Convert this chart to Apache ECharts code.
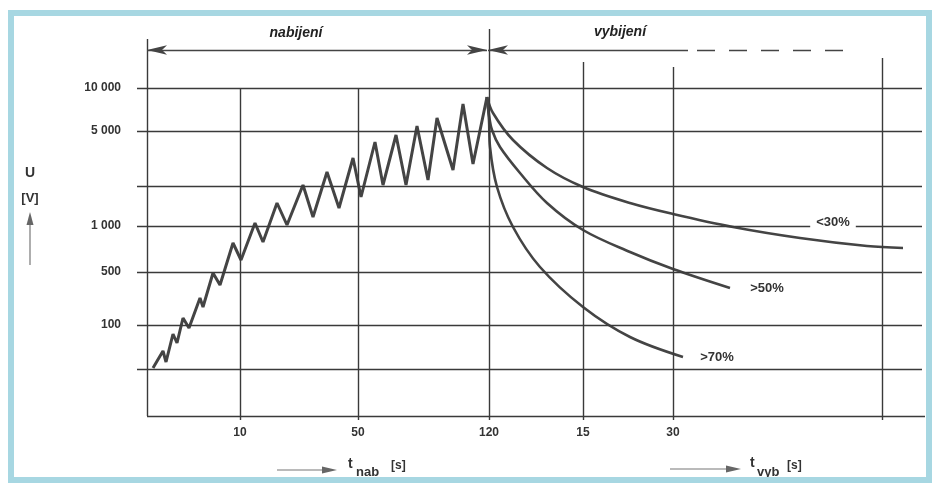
<!DOCTYPE html>
<html><head><meta charset="utf-8">
<script src="https://cdn.jsdelivr.net/npm/echarts@6/dist/echarts.min.js"></script>
<style>html,body{margin:0;padding:0;background:#fff}#c{width:936px;height:483px}</style>
</head><body><div id="c"></div>
<script>
// Positions along the picture's own (non-uniform) axes, in drawing units
const chargeX = [6,16,19,26,30,36,42,53,56,66,73,86,94,108,116,130,140,156,166,180,192,206,214,228,236,249,259,270,281,290,306,316,326,340];
const chargeY = [48,65,54,82,73,98,88,118,109,143,131,173,156,193,174,213,191,231,199,244,208,258,219,274,231,281,231,290,236,298,246,312,252,319];
const d30X = [340,346,366,400,436,483,526,586,653,720,756];
const d30Y = [319,303,276,248,229,213,202,189,178,170,168];
const d50X = [340,342,345,353,373,400,436,483,526,583];
const d50Y = [319,301,286,269,243,213,186,164,147,128];
const d70X = [340,342,343,350,366,393,436,483,536];
const d70Y = [319,296,269,229,189,149,109,79,59];
// horizontal levels and their U labels
const levelY = [328,285,230,190,144,91,47];
const levelLabels = ['10 000','5 000','','1 000','500','100',''];
// vertical time marks and their labels
const markX = [93,211,342,436,526,735];
const markTop = [328,328,387,354,349,358];
const markLabels = ['10','50','120','15','30',''];
const curveLabels = ['<30%','>50%','>70%'];
const curveLabelPos = [[686,194],[620,128],[570,59]];

const zip = (a,b)=>a.map((v,i)=>[v,b[i]]);
const ink = '#3a3a3a';
const lblFont = {color:'#333',fontFamily:'Liberation Sans',fontWeight:'bold',fontSize:12};

const hLines = levelY.map((y,i)=>[{coord:[-10,y],label:{show:levelLabels[i]!=='',position:'start',distance:16,formatter:levelLabels[i],...lblFont}},{coord:[775,y]}]);
hLines.push([{coord:[0,0],label:{show:false}},{coord:[778,0]}]);
const vLines = markX.map((x,i)=>[{coord:[x,-4],label:{show:markLabels[i]!=='',position:'start',distance:7,formatter:markLabels[i],...lblFont}},{coord:[x,markTop[i]]}]);
vLines.push([{coord:[0,0],label:{show:false}},{coord:[0,377]}]);

const arrowLines = [
  [{coord:[0,366],symbol:'arrow'},{coord:[340,366],symbol:'arrow'}],
  [{coord:[341,366],symbol:'arrow'},{coord:[541,366],symbol:'none'}],
  [{coord:[550,366],symbol:'none',lineStyle:{type:[18,14]}},{coord:[698,366],symbol:'none'}]
];

const chart = echarts.init(document.getElementById('c'),null,{renderer:'canvas'});
const curveLine = (data,smooth)=>({type:'line',data,showSymbol:false,smooth,lineStyle:{color:'#444',width:2.6},silent:true,animation:false,clip:false});
chart.setOption({
  animation:false,
  backgroundColor:'#fff',
  grid:{left:137,right:11,top:29,bottom:61},
  xAxis:{type:'value',min:-10,max:778,show:false},
  yAxis:{type:'value',min:-6,max:387,show:false},
  graphic:[
    {type:'rect',shape:{x:11,y:13,width:918,height:467},style:{fill:null,stroke:'#a7d7e2',lineWidth:6},z:100},
    {type:'text',x:296,y:33,style:{text:'nabijení',font:'italic bold 14px "Liberation Sans"',fill:'#222',textAlign:'center',textVerticalAlign:'middle'}},
    {type:'text',x:620,y:32,style:{text:'vybijení',font:'italic bold 14px "Liberation Sans"',fill:'#222',textAlign:'center',textVerticalAlign:'middle'}},
    {type:'text',x:30,y:173,style:{text:'U',font:'bold 14px "Liberation Sans"',fill:'#333',textAlign:'center',textVerticalAlign:'middle'}},
    {type:'text',x:30,y:198,style:{text:'[V]',font:'bold 13px "Liberation Sans"',fill:'#333',textAlign:'center',textVerticalAlign:'middle'}},
    {type:'line',shape:{x1:30,y1:265,x2:30,y2:222},style:{stroke:'#777',lineWidth:1.2}},
    {type:'polygon',shape:{points:[[30,212],[26.5,225],[33.5,225]]},style:{fill:'#666'}},
    {type:'line',shape:{x1:277,y1:470,x2:326,y2:470},style:{stroke:'#777',lineWidth:1.2}},
    {type:'polygon',shape:{points:[[337,470],[322,466.5],[322,473.5]]},style:{fill:'#666'}},
    {type:'text',x:348,y:464,style:{text:'t',font:'bold 14px "Liberation Sans"',fill:'#333',textVerticalAlign:'middle'}},
    {type:'text',x:356,y:472,style:{text:'nab',font:'bold 13px "Liberation Sans"',fill:'#333',textVerticalAlign:'middle'}},
    {type:'text',x:391,y:466,style:{text:'[s]',font:'bold 12px "Liberation Sans"',fill:'#333',textVerticalAlign:'middle'}},
    {type:'line',shape:{x1:670,y1:469,x2:730,y2:469},style:{stroke:'#777',lineWidth:1.2}},
    {type:'polygon',shape:{points:[[741,469],[726,465.5],[726,472.5]]},style:{fill:'#666'}},
    {type:'text',x:750,y:463,style:{text:'t',font:'bold 14px "Liberation Sans"',fill:'#333',textVerticalAlign:'middle'}},
    {type:'text',x:757,y:472,style:{text:'vyb',font:'bold 13px "Liberation Sans"',fill:'#333',textVerticalAlign:'middle'}},
    {type:'text',x:787,y:466,style:{text:'[s]',font:'bold 12px "Liberation Sans"',fill:'#333',textVerticalAlign:'middle'}}
  ],
  series:[
    {type:'line',data:[],silent:true,animation:false,
      markLine:{silent:true,animation:false,symbol:'none',lineStyle:{color:ink,width:1.4,type:'solid'},label:{show:false},
        data:hLines.concat(vLines)}},
    {type:'line',data:[],silent:true,animation:false,
      markLine:{silent:true,animation:false,symbolSize:[7,20],lineStyle:{color:'#444',width:1.4,type:'solid'},label:{show:false},
        data:arrowLines}},
    Object.assign(curveLine(zip(chargeX,chargeY),false),{lineStyle:{color:'#444',width:3}}),
    Object.assign(curveLine(zip(d30X,d30Y),0.35),{markPoint:{symbol:'circle',symbolSize:0,silent:true,animation:false,
      data:[{coord:curveLabelPos[0],label:{show:true,formatter:curveLabels[0],...lblFont,fontSize:13,backgroundColor:'#fff',padding:[2,6]}}]}}),
    Object.assign(curveLine(zip(d50X,d50Y),0.35),{markPoint:{symbol:'circle',symbolSize:0,silent:true,animation:false,
      data:[{coord:curveLabelPos[1],label:{show:true,formatter:curveLabels[1],...lblFont,fontSize:13}}]}}),
    Object.assign(curveLine(zip(d70X,d70Y),0.35),{markPoint:{symbol:'circle',symbolSize:0,silent:true,animation:false,
      data:[{coord:curveLabelPos[2],label:{show:true,formatter:curveLabels[2],...lblFont,fontSize:13}}]}})
  ]
});
</script></body></html>
